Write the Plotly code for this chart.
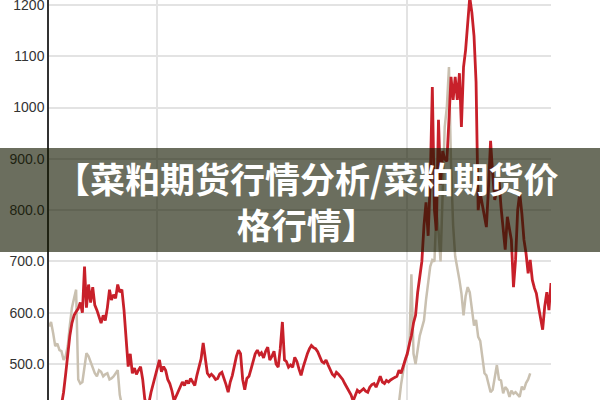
import plotly.graph_objects as go
import pandas as pd

dates = pd.date_range("1995-09-01", periods=242, freq="MS")

red_values = [
    405, 400, 410, 405, 415, 412, 420, 445, 480, 525,
    555, 580, 595, 602, 608, 620, 600, 690, 610, 655,
    620, 650, 615, 605, 592, 580, 595, 585, 610, 645,
    625, 635, 628, 655, 640, 645, 605, 540, 495, 520,
    482, 492, 480, 488, 495, 470, 432, 420, 425, 445,
    462, 478, 494, 508, 485, 495, 488, 470, 462, 448,
    428, 438, 445, 455, 465, 458, 468, 462, 472, 465,
    458, 478, 495, 510, 541, 512, 482, 476, 480, 476,
    470, 472, 481, 484, 473, 460, 445, 465, 478, 500,
    515, 527, 520, 470, 450, 472, 476, 490, 505, 520,
    527, 518, 522, 512, 525, 533, 508, 515, 525, 500,
    494, 530, 582, 508, 505, 494, 498, 494, 513, 505,
    490, 478, 494, 508, 520, 530, 536, 532, 530, 524,
    513, 505, 502, 508, 498, 490, 480, 476, 484, 480,
    476, 470, 462, 455, 449, 440, 428, 440, 449, 445,
    448, 452, 447, 445, 455, 460, 462, 455, 465, 476,
    465, 462, 468, 465, 469, 472, 474, 476, 488, 482,
    494, 505, 521, 540, 555, 580, 595, 640, 665, 700,
    770, 815, 750, 855, 1040, 800, 760, 976, 850, 915,
    900, 895, 976, 1060, 1015, 1060, 1015, 1067, 962, 1079,
    1112, 1160, 1215, 1185, 1140, 1050, 800, 833, 810, 790,
    767, 845, 935, 870, 820, 840, 859, 806, 760, 723,
    787, 760, 742, 650, 703, 800, 833, 794, 742, 716,
    677, 703, 664, 648, 638, 612, 592, 567, 612, 640,
    605, 658,
]

beige_values = [
    573, 582, 560, 535, 540, 527, 525, 508, 515, 535,
    575, 610, 628, 645, 470, 462, 465, 490, 521, 515,
    505, 494, 482, 476, 488, 485, 476, 480, 482, 470,
    472, 476, 482, 488, 440, 420, 410, 405, 398, 402,
    395, 390, 398, 404, 400, 392, 388, 395, 400, 396,
    390, 386, 392, 398, 405, 400, 394, 388, 384, 390,
    396, 402, 398, 392, 386, 380, 385, 392, 398, 404,
    410, 406, 400, 396, 392, 398, 404, 412, 418, 410,
    404, 398, 394, 400, 406, 412, 416, 410, 404, 398,
    392, 388, 394, 400, 405, 410, 415, 420, 414, 408,
    402, 398, 404, 410, 414, 408, 402, 396, 392, 388,
    384, 390, 396, 392, 386, 382, 378, 384, 390, 386,
    380, 376, 382, 388, 384, 378, 374, 380, 386, 392,
    388, 384, 390, 396, 400, 404, 398, 394, 400, 406,
    410, 404, 400, 396, 402, 408, 412, 406, 400, 404,
    410, 414, 418, 412, 408, 414, 420, 416, 412, 418,
    422, 418, 414, 420, 424, 418, 414, 420, 425, 460,
    490, 510, 518, 540, 675, 520, 500, 530, 555, 570,
    585, 625, 660, 690, 703, 700, 800, 760, 700, 845,
    962, 1001, 1079, 890, 770, 710, 690, 664, 638, 595,
    632, 650, 640, 605, 575, 586, 553, 545, 508, 482,
    478, 460, 445, 450, 475, 498, 470, 468, 443, 455,
    450, 436, 448, 442, 445, 440, 436, 456, 450, 463,
    470, 482,
]

y_tick_values = [500, 600, 700, 800, 900, 1000, 1100, 1200]
y_tick_labels = ["500.0", "600.0", "700.0", "800.0", "900.0", "1000", "1100", "1200"]

title_text = "【菜粕期货行情分析/菜粕期货价<br>格行情】"

fig = go.Figure()
fig.add_trace(go.Scatter(x=dates[:len(beige_values)], y=beige_values, mode="lines",
                         line=dict(color="#c9c0b0", width=2.5), showlegend=False))
fig.add_trace(go.Scatter(x=dates[:len(red_values)], y=red_values, mode="lines",
                         line=dict(color="#c8202a", width=2.8), showlegend=False))

fig.update_layout(
    template="none",
    width=600, height=400,
    margin=dict(l=49, r=49, t=0, b=0),
    paper_bgcolor="white", plot_bgcolor="white",
    showlegend=False,
    xaxis=dict(type="date", range=["1995-09-01", "2015-10-01"],
               tick0="2000-01-01", dtick="M120",
               showgrid=True, gridcolor="#e3e3e3", gridwidth=1.5,
               showticklabels=False, zeroline=False, showline=False, ticks=""),
    yaxis=dict(range=[429.9, 1209.7], tickvals=y_tick_values, ticktext=y_tick_labels,
               showgrid=True, gridcolor="#e3e3e3", gridwidth=2,
               showline=True, linecolor="#333333", linewidth=1.5,
               zeroline=False, ticks="", ticklabeloverflow="allow",
               tickfont=dict(family="Liberation Sans, Arial", size=14, color="#333333")),
)

fig.add_shape(type="rect", xref="paper", yref="paper",
              x0=-49/502, x1=1 + 49/502, y0=1 - 252/400, y1=1 - 148/400,
              fillcolor="rgba(20,26,0,0.63)", line=dict(width=0), layer="above")

fig.add_annotation(text=title_text, xref="paper", yref="paper",
                   x=(307 - 49) / 502, y=1 - 201/400, showarrow=False,
                   xanchor="center", yanchor="middle", align="center",
                   font=dict(family="Noto Sans CJK SC", size=35, color="white", weight="bold"))

fig.write_html("out.html", config={"displayModeBar": False},
               post_script="document.body.style.margin='0';document.body.style.overflow='hidden';")
